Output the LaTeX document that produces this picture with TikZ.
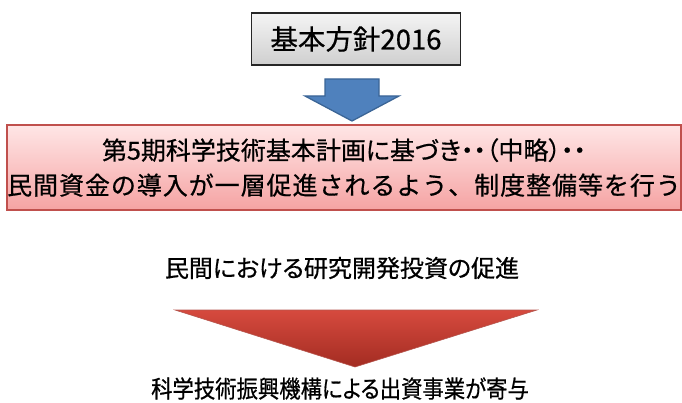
\documentclass[tikz,border=0pt]{standalone}
\usepackage{fontspec}
\usepackage{graphicx}
\newfontfamily\jp[RawFeature=+palt,FakeBold=0.6]{Noto Sans CJK JP}
\newfontfamily\jpwide[LetterSpace=3.8,FakeBold=0.6]{Noto Sans CJK JP}
\usetikzlibrary{calc}
\definecolor{boxred}{HTML}{C0504D}
\definecolor{pinktop}{HTML}{FFE6E6}
\definecolor{pinkbot}{HTML}{F5A3A3}
\definecolor{graytop}{HTML}{F4F4F4}
\definecolor{graybot}{HTML}{CFCFCF}
\definecolor{arrowblue}{HTML}{4F81BD}
\definecolor{arrowblueedge}{HTML}{3B6596}
\definecolor{arrowred}{HTML}{D64A3E}
\definecolor{arrowreddark}{HTML}{A32C22}
\tikzset{
  graybox/.style={draw=black!85, line width=1.3pt, top color=graytop, bottom color=graybot,
    minimum width=209pt, minimum height=52pt, inner sep=0pt, font=\jp\fontsize{27.5}{30}\selectfont},
  pinkbox/.style={draw=boxred, line width=2pt, top color=pinktop, bottom color=pinkbot,
    minimum width=673pt, minimum height=85pt, inner sep=0pt, align=center,
    font=\jp\fontsize{25}{35}\selectfont},
  plaintext/.style={inner sep=0pt, font=\jp\fontsize{24}{28}\selectfont},
  bluearrow/.style={fill=arrowblue, draw=arrowblueedge, line width=1.3pt, line join=miter},
  redarrow/.style={top color=arrowred, bottom color=arrowreddark, draw=arrowreddark!80, line width=0.6pt}
}
\begin{document}
\begin{tikzpicture}[x=1pt,y=1pt]
\useasboundingbox (0,0) rectangle (682,402);
% top box
\node[graybox] (policy) at (356,363) {基本方針2016};
% pink box
\node[pinkbox] (plan) at (344,234.5) {第5期科学技術基本計画に基づき・・（中略）・・\\{\jpwide 民間資金の導入が一層促進されるよう、制度整備等を行う}};
% middle text
\node[plaintext] (invest) at (342,134) {民間における研究開発投資の促進};
% bottom text
\node[plaintext] (jst) at (340,13.5) {\scalebox{0.89}[1]{科学技術振興機構による出資事業が寄与}};
% blue arrow between policy and plan
\coordinate (bt) at ($(plan.north)+(8,3)$);
\draw[bluearrow] ($(bt)+(-27,42)$) -- ($(bt)+(27,42)$) -- ($(bt)+(27,25)$) -- ($(bt)+(47,25)$)
  -- (bt) -- ($(bt)+(-47,25)$) -- ($(bt)+(-27,25)$) -- cycle;
% red arrow between invest and jst
\coordinate (rt) at (355,35);
\draw[redarrow] (175,92) -- (537,92) -- (rt) -- cycle;
\end{tikzpicture}
\end{document}
